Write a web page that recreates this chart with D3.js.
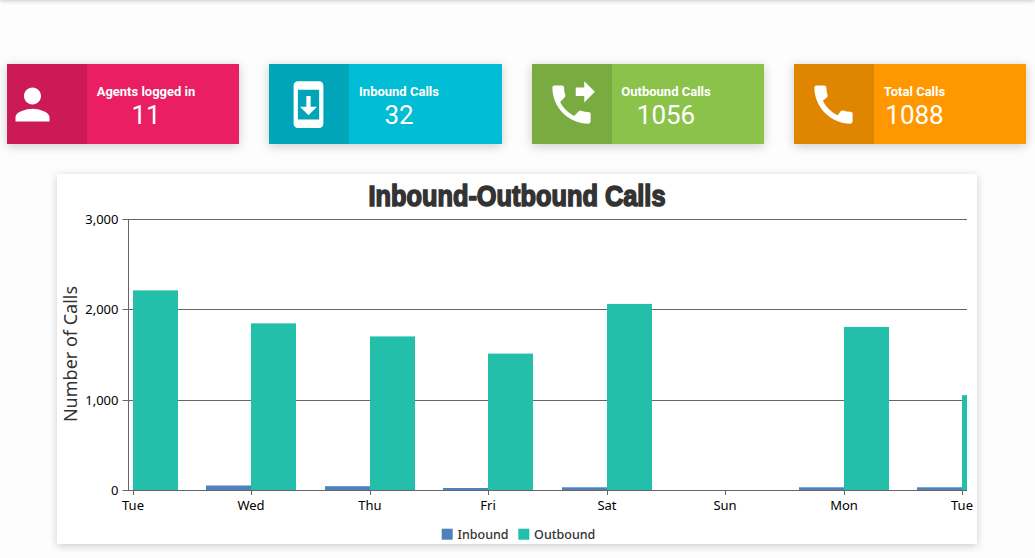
<!DOCTYPE html>
<html>
<head>
<meta charset="utf-8">
<script src="https://cdn.jsdelivr.net/npm/d3@7/dist/d3.min.js"></script>
<style>
html,body{margin:0;padding:0;width:1035px;height:558px;overflow:hidden;background:#fdfdfd;}
#topbar{position:absolute;left:0;top:-10px;width:1035px;height:10px;box-shadow:0 0 5px rgba(0,0,0,.3);}
.card{position:absolute;top:64px;height:80px;box-shadow:0 2px 10px rgba(0,0,0,.2);}
.icon{position:absolute;left:0;top:0;width:80px;height:80px;background:rgba(0,0,0,.12);}
.card svg{position:absolute;overflow:visible;}
.label{position:absolute;top:20px;font:700 13px Roboto,sans-serif;color:#fff;white-space:nowrap;line-height:16px;transform:translateX(-50%);}
.num{position:absolute;top:34px;font:400 26px Roboto,sans-serif;color:#fff;line-height:34px;transform:translateX(-50%);white-space:nowrap;}
#panel{position:absolute;left:57px;top:174px;width:920px;height:370px;background:#fff;box-shadow:0 2px 8px rgba(0,0,0,.2);}
#chart{position:absolute;left:0;top:0;}
.tick text,.lg,.yt{font-family:"Noto Sans",sans-serif;}
</style>
</head>
<body>
<div id="topbar"></div>
<div id="cards"></div>
<div id="panel"></div>
<script>
const categories = ["Tue","Wed","Thu","Fri","Sat","Sun","Mon","Tue"];
const inbound  = [0,50,42,22,30,0,30,30];
const outbound = [2210,1845,1700,1510,2060,0,1805,1050];
const yTicks = [0,1000,2000,3000];
const seriesNames = ["Inbound","Outbound"];
const seriesColors = ["#4f81bd","#23bfaa"];
const title = "Inbound-Outbound Calls";
const yTitle = "Number of Calls";

const cardLabels = ["Agents logged in","Inbound Calls","Outbound Calls","Total Calls"];
const cardValues = ["11","32","1056","1088"];
const cardColors = ["#e91e63","#00bcd4","#8bc34a","#ff9800"];
const cardLefts  = [7,269,532,794];
const cardWidths = [232,233,232,232];
const cardCenters= [139,130,134,120.5];
const iconOrigins= [[-0.5,14.6],[14.4,14.9],[13.6,14.7],[13.6,14.6]];
const iconPaths = [
"M12 12c2.21 0 4-1.79 4-4s-1.79-4-4-4-4 1.79-4 4 1.79 4 4 4zm0 2c-2.67 0-8 1.34-8 4v2h16v-2c0-2.66-5.33-4-8-4z",
"M17 1.01L7 1c-1.1 0-2 .9-2 2v18c0 1.1.9 2 2 2h10c1.1 0 2-.9 2-2V3c0-1.1-.9-1.99-2-1.99zM17 19H7V5h10v14zm-1-6h-3V8h-2v5H8l4 4 4-4z",
"M18 11l5-5-5-5v3h-4v4h4v3zm2 4.5c-1.25 0-2.45-.2-3.57-.57-.35-.11-.74-.03-1.02.24l-2.2 2.2c-2.83-1.44-5.15-3.75-6.59-6.59l2.2-2.21c.28-.26.36-.65.25-1C8.7 6.45 8.5 5.25 8.5 4c0-.55-.45-1-1-1H4c-.55 0-1 .45-1 1 0 9.39 7.61 17 17 17 .55 0 1-.45 1-1v-3.5c0-.55-.45-1-1-1z",
"M20.01 15.38c-1.23 0-2.42-.2-3.53-.56-.35-.12-.74-.03-1.01.24l-1.57 1.97c-2.83-1.35-5.48-3.9-6.89-6.83l1.95-1.66c.27-.28.35-.67.24-1.02-.37-1.11-.56-2.3-.56-3.53 0-.54-.45-.99-.99-.99H4.19C3.65 3 3 3.24 3 3.99 3 13.28 10.73 21 20.01 21c.71 0 .99-.63.99-1.18v-3.45c0-.54-.45-.99-.99-.99z"
];

const cards = d3.select("#cards").selectAll(".card").data(cardLabels).join("div")
  .attr("class","card")
  .style("left",(d,i)=>cardLefts[i]+"px")
  .style("width",(d,i)=>cardWidths[i]+"px")
  .style("background",(d,i)=>cardColors[i]);
cards.append("div").attr("class","icon");
cards.append("svg").attr("width",51).attr("height",51)
  .attr("viewBox","0 0 24 24")
  .style("left",(d,i)=>iconOrigins[i][0]+"px")
  .style("top",(d,i)=>iconOrigins[i][1]+"px")
  .append("path").attr("fill","#fff").attr("d",(d,i)=>iconPaths[i]);
cards.append("div").attr("class","label").style("left",(d,i)=>cardCenters[i]+"px").text(d=>d);
cards.append("div").attr("class","num").style("left",(d,i)=>cardCenters[i]+"px").text((d,i)=>cardValues[i]);

// chart (coordinates inside panel)
const W=920,H=370;
const svg=d3.select("#panel").append("svg").attr("id","chart").attr("width",W).attr("height",H);
const plot={left:71,right:910,top:45,bottom:316};
const xRaw=d3.scalePoint().domain(d3.range(categories.length)).range([76,905]);
const x=i=>Math.round(xRaw(i));
const y=d3.scaleLinear().domain([0,3000]).range([plot.bottom,plot.top]);
const barW=Math.round(xRaw.step()*0.38);

svg.append("text").attr("transform","translate(460,31.5) scale(0.845,1)").attr("text-anchor","middle")
  .attr("font-family","'Liberation Sans',sans-serif").attr("font-weight",700).attr("font-size",30)
  .attr("fill","#333").attr("stroke","#333").attr("stroke-width",1.6).text(title);

svg.append("clipPath").attr("id","plotclip").append("rect")
  .attr("x",plot.left).attr("y",plot.top-5).attr("width",plot.right-plot.left).attr("height",plot.bottom-plot.top+5);

svg.append("g").selectAll("line").data(yTicks.filter(d=>d>0)).join("line")
  .attr("x1",plot.left).attr("x2",plot.right).attr("y1",d=>Math.round(y(d))+.5).attr("y2",d=>Math.round(y(d))+.5)
  .attr("stroke","#666").attr("stroke-width",1);

const bars=svg.append("g").attr("clip-path","url(#plotclip)");
bars.selectAll(".in").data(inbound).join("rect").attr("class","in")
  .attr("x",(d,i)=>x(i)-barW).attr("width",barW)
  .attr("y",d=>y(d)).attr("height",d=>y(0)-y(d)).attr("fill",seriesColors[0]);
bars.selectAll(".out").data(outbound).join("rect").attr("class","out")
  .attr("x",(d,i)=>x(i)).attr("width",barW)
  .attr("y",d=>y(d)).attr("height",d=>y(0)-y(d)).attr("fill",seriesColors[1]);

const yAxis=svg.append("g").attr("transform",`translate(${plot.left+.5},0)`)
  .call(d3.axisLeft(y).tickValues(yTicks).tickSize(6).tickPadding(5).tickFormat(d3.format(",")));
yAxis.selectAll(".domain").attr("stroke","#666").attr("d",`M0,${plot.top}V${plot.bottom}`);
yAxis.selectAll(".tick").attr("transform",d=>`translate(0,${Math.round(y(d))+.5})`);
yAxis.selectAll(".tick line").attr("stroke","#666").attr("x2",-6);
yAxis.selectAll("text").attr("font-size",13).attr("fill","#000").attr("x",-10);

const xAxis=svg.append("g").attr("transform",`translate(0,${plot.bottom})`)
  .call(d3.axisBottom(xRaw).tickSize(5).tickFormat(i=>categories[i]));
xAxis.select(".domain").attr("stroke","#666").attr("d",`M${plot.left},0.5H${plot.right}`);
xAxis.selectAll(".tick").attr("transform",i=>`translate(${x(i)+.5},0)`);
xAxis.selectAll(".tick line").attr("stroke","#666");
xAxis.selectAll("text").attr("font-size",13).attr("fill","#000").attr("y",20).attr("dy",0).attr("x",-.5);

svg.append("text").attr("class","yt").attr("transform","translate(20,180) rotate(-90)")
  .attr("text-anchor","middle").attr("font-size",18).attr("fill","#333").text(yTitle);

const lgX=[384.7,461.3];
const lg=svg.append("g").selectAll("g").data(seriesNames).join("g").attr("transform",(d,i)=>`translate(${lgX[i]},0)`);
lg.append("rect").attr("x",0).attr("y",354.7).attr("width",11).attr("height",11).attr("fill",(d,i)=>seriesColors[i]);
lg.append("text").attr("class","lg").attr("x",15.8).attr("y",365).attr("font-size",12.5).attr("font-weight",500).attr("fill","#333").text(d=>d);
</script>
</body>
</html>
